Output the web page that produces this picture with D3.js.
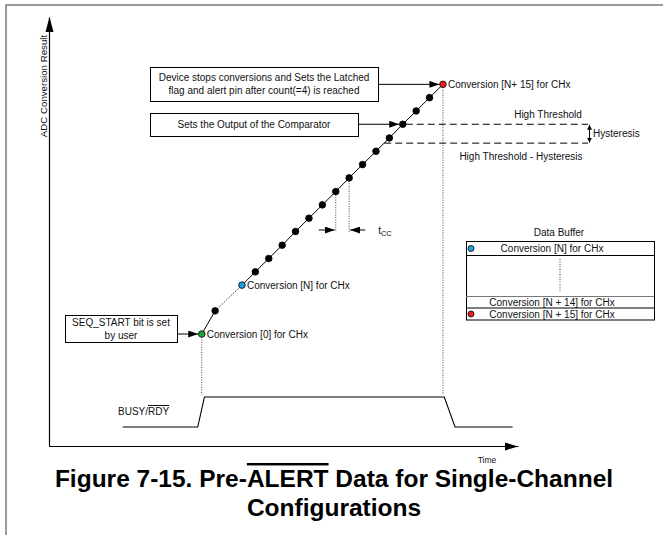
<!DOCTYPE html>
<html>
<head>
<meta charset="utf-8">
<script src="https://cdn.jsdelivr.net/npm/d3@7"></script>
<style>
  html, body { margin: 0; padding: 0; background: #fff; }
  svg text { font-family: "Liberation Sans", Arial, sans-serif; fill: #111; }
</style>
</head>
<body>
<div id="chart"></div>
<script>
'use strict';

// conversion time (in t_CC steps) and result (% of full scale)
var convTime = [0, 1, 3, 4, 5, 6, 7, 8, 9, 10, 11, 12, 13, 14, 15, 16, 17, 18];
var convCode = [26.1, 31.5, 37.5, 40.6, 43.7, 46.8, 50.0, 53.1, 56.2, 59.3, 62.5, 65.6, 68.7, 71.8, 75.0, 78.1, 81.2, 84.3];
var convFill = ['#1fa53b', '#000', '#1ba1e2', '#000', '#000', '#000', '#000', '#000', '#000',
                '#000', '#000', '#000', '#000', '#000', '#000', '#000', '#000', '#ed1c24'];
var convLabel = {0: 'Conversion [0] for CHx', 2: 'Conversion [N] for CHx', 17: 'Conversion [N+ 15] for CHx'};
var tccIndex = [9, 10];
var thresholdIndex = 14;

var highThreshold = 75.0;
var hysteresis = 4.4;

var busyTime = [-5.9, -0.3, 0.2, 18.1, 18.9, 23.2];
var busyLevel = [0, 0, 1, 1, 0, 0];

var bufferText = ['Conversion [N] for CHx', '', 'Conversion [N + 14] for CHx', 'Conversion [N + 15] for CHx'];
var bufferDot = ['#1ba1e2', null, null, '#ed1c24'];

var W = 663, H = 535;
var plot = {left: 49, right: 518, top: 17, bottom: 446};

var x = d3.scaleLinear().domain([-11.4, 23.6]).range([plot.left, plot.right]);
var y = d3.scaleLinear().domain([0, 100]).range([plot.bottom, plot.top]);
var yBusy = d3.scaleLinear().domain([0, 1]).range([427, 397]);

var svg = d3.select('#chart').append('svg')
	.attr('width', W)
	.attr('height', H);

var defs = svg.append('defs');
defs.append('marker')
	.attr('id', 'arrow')
	.attr('viewBox', '0 -3.5 10 7')
	.attr('refX', 10).attr('refY', 0)
	.attr('markerWidth', 10).attr('markerHeight', 7)
	.attr('markerUnits', 'userSpaceOnUse')
	.attr('orient', 'auto-start-reverse')
	.append('path').attr('d', 'M0,-3.5L10,0L0,3.5Z').attr('fill', '#000');
defs.append('marker')
	.attr('id', 'arrowSmall')
	.attr('viewBox', '0 -2.5 5 5')
	.attr('refX', 5).attr('refY', 0)
	.attr('markerWidth', 5).attr('markerHeight', 5)
	.attr('markerUnits', 'userSpaceOnUse')
	.attr('orient', 'auto-start-reverse')
	.append('path').attr('d', 'M0,-2.5L5,0L0,2.5Z').attr('fill', '#000');

// frame
svg.append('rect')
	.attr('x', 6).attr('y', 5)
	.attr('width', 680).attr('height', 600)
	.attr('fill', 'none')
	.attr('stroke', '#7a7a7a')
	.attr('stroke-width', 1.5);

// axes, no ticks
svg.append('g')
	.attr('transform', 'translate(' + plot.left + ',0)')
	.call(d3.axisLeft(y).tickValues([]).tickSizeOuter(0))
	.select('.domain').attr('stroke-width', 1.2);
svg.append('g')
	.attr('transform', 'translate(0,' + plot.bottom + ')')
	.call(d3.axisBottom(x).tickValues([]).tickSizeOuter(0))
	.select('.domain').attr('stroke-width', 1.2);

svg.append('path')
	.attr('d', 'M' + (plot.left - 3.5) + ',' + (plot.top + 15) + 'L' + (plot.left + 0.5) + ',' + plot.top +
		'L' + (plot.left + 4.5) + ',' + (plot.top + 15) + 'Z');
svg.append('path')
	.attr('d', 'M' + (plot.right - 13) + ',' + (plot.bottom - 3.5) + 'L' + plot.right + ',' + (plot.bottom + 0.5) +
		'L' + (plot.right - 13) + ',' + (plot.bottom + 4.5) + 'Z');

svg.append('text')
	.attr('transform', 'translate(47,86) rotate(-90)')
	.attr('text-anchor', 'middle')
	.style('font-size', '9.7px')
	.text('ADC Conversion Result');

svg.append('text')
	.attr('x', 487).attr('y', 463)
	.attr('text-anchor', 'middle')
	.style('font-size', '8.5px')
	.text('Time');

// conversion line
var pts = convTime.map(function(t, i){ return [x(t), y(convCode[i])]; });
var line = d3.line();

svg.append('path')
	.attr('d', line(pts.slice(0, 2)))
	.attr('fill', 'none').attr('stroke', '#000').attr('stroke-width', 1);
svg.append('path')
	.attr('d', line(pts.slice(1, 3)))
	.attr('fill', 'none').attr('stroke', '#000').attr('stroke-width', 1)
	.attr('stroke-dasharray', '1,1.5');
svg.append('path')
	.attr('d', line(pts.slice(2)))
	.attr('fill', 'none').attr('stroke', '#000').attr('stroke-width', 1);

// dotted guides
var last = pts.length - 1;
[0, last].forEach(function(i){
	svg.append('line')
		.attr('x1', pts[i][0]).attr('x2', pts[i][0])
		.attr('y1', pts[i][1] + 3).attr('y2', yBusy(1) - 2)
		.attr('stroke', '#444').attr('stroke-dasharray', '1,1.5');
});
tccIndex.forEach(function(i){
	svg.append('line')
		.attr('x1', pts[i][0]).attr('x2', pts[i][0])
		.attr('y1', pts[i][1] + 3).attr('y2', 232)
		.attr('stroke', '#444').attr('stroke-dasharray', '1,1.5');
});

// t_CC arrows
var tA = pts[tccIndex[0]][0], tB = pts[tccIndex[1]][0];
svg.append('line')
	.attr('x1', tA - 17).attr('x2', tA - 1).attr('y1', 230).attr('y2', 230)
	.attr('stroke', '#000').attr('marker-end', 'url(#arrow)');
svg.append('line')
	.attr('x1', tB + 16).attr('x2', tB + 1).attr('y1', 230).attr('y2', 230)
	.attr('stroke', '#000').attr('marker-end', 'url(#arrow)');
var tcc = svg.append('text')
	.attr('x', tB + 29).attr('y', 233.5)
	.style('font-size', '10px');
tcc.append('tspan').text('t');
tcc.append('tspan').attr('dy', 2.5).style('font-size', '7.5px').text('CC');

// thresholds
var yHigh = y(highThreshold), yLow = y(highThreshold - hysteresis);
var lowStart = x(d3.scaleLinear().domain([convCode[12], convCode[13]]).range([convTime[12], convTime[13]])(highThreshold - hysteresis));
svg.append('line')
	.attr('x1', pts[thresholdIndex][0] + 3).attr('x2', 588)
	.attr('y1', yHigh).attr('y2', yHigh)
	.attr('stroke', '#000').attr('stroke-dasharray', '7,4');
svg.append('line')
	.attr('x1', lowStart).attr('x2', 588)
	.attr('y1', yLow).attr('y2', yLow)
	.attr('stroke', '#000').attr('stroke-dasharray', '7,4');
svg.append('line')
	.attr('x1', 589.5).attr('x2', 589.5)
	.attr('y1', yHigh + 0.5).attr('y2', yLow - 0.5)
	.attr('stroke', '#000')
	.attr('marker-start', 'url(#arrowSmall)')
	.attr('marker-end', 'url(#arrowSmall)');
svg.append('text').attr('x', 548).attr('y', yHigh - 6).attr('text-anchor', 'middle')
	.style('font-size', '10px').text('High Threshold');
svg.append('text').attr('x', 593).attr('y', (yHigh + yLow) / 2 + 3.5)
	.style('font-size', '10px').text('Hysteresis');
svg.append('text').attr('x', 521).attr('y', yLow + 16.5).attr('text-anchor', 'middle')
	.style('font-size', '10px').text('High Threshold - Hysteresis');

// dots
svg.selectAll('circle.conv')
	.data(pts)
	.enter().append('circle')
	.attr('class', 'conv')
	.attr('cx', function(d){ return d[0]; })
	.attr('cy', function(d){ return d[1]; })
	.attr('r', 3.3)
	.attr('fill', function(d, i){ return convFill[i]; })
	.attr('stroke', '#000')
	.attr('stroke-width', 0.8);

Object.keys(convLabel).forEach(function(k){
	var p = pts[+k];
	svg.append('text')
		.attr('x', p[0] + 5).attr('y', p[1] + 3.5)
		.style('font-size', '10px')
		.text(convLabel[k]);
});

// annotation boxes
function box(bx, by, bw, bh, lines, target){
	svg.append('rect')
		.attr('x', bx + 0.5).attr('y', by + 0.5)
		.attr('width', bw).attr('height', bh)
		.attr('fill', '#fff').attr('stroke', '#000');
	var t = svg.append('text')
		.attr('text-anchor', 'middle')
		.style('font-size', '10px');
	var lh = 13;
	var y0 = by + bh / 2 + 3.5 - (lines.length - 1) * lh / 2;
	lines.forEach(function(s, i){
		t.append('tspan').attr('x', bx + bw / 2).attr('y', y0 + i * lh).text(s);
	});
	svg.append('line')
		.attr('x1', bx + bw + 0.5).attr('x2', target[0] - 3.5)
		.attr('y1', target[1]).attr('y2', target[1])
		.attr('stroke', '#000').attr('marker-end', 'url(#arrow)');
}
box(150, 67, 228, 34, ['Device stops conversions and Sets the Latched', 'flag and alert pin after count(=4) is reached'], pts[last]);
box(150, 113, 208, 23, ['Sets the Output of the Comparator'], pts[thresholdIndex]);
box(65, 315, 112, 27, ['SEQ_START bit is set', 'by user'], pts[0]);

// BUSY/RDY
svg.append('path')
	.attr('d', d3.line()(busyTime.map(function(t, i){ return [x(t), yBusy(busyLevel[i])]; })))
	.attr('fill', 'none').attr('stroke', '#000').attr('stroke-width', 1.1);
var busy = svg.append('text')
	.attr('x', 118).attr('y', 415)
	.style('font-size', '10px');
busy.append('tspan').text('BUSY/');
busy.append('tspan').style('text-decoration', 'overline').text('RDY');

// data buffer
var rowY = [241, 255, 296, 307.5, 319.5];
var tbl = {left: 466, right: 654};
svg.append('text').attr('x', 559).attr('y', 236).attr('text-anchor', 'middle')
	.style('font-size', '10px').text('Data Buffer');
svg.append('rect')
	.attr('x', tbl.left + 0.5).attr('y', rowY[0] + 0.5)
	.attr('width', tbl.right - tbl.left).attr('height', rowY[4] - rowY[0])
	.attr('fill', 'none').attr('stroke', '#000');
rowY.slice(1, 4).forEach(function(ry, i){
	svg.append('line')
		.attr('x1', tbl.left).attr('x2', tbl.right)
		.attr('y1', ry + 0.5).attr('y2', ry + 0.5)
		.attr('stroke', i === 1 ? '#777' : '#000');
});
bufferText.forEach(function(s, i){
	var cy = (rowY[i] + rowY[i + 1]) / 2;
	if (s) {
		svg.append('text').attr('x', 552).attr('y', cy + 4).attr('text-anchor', 'middle')
			.style('font-size', '10px').text(s);
	}
	if (bufferDot[i]) {
		svg.append('circle').attr('cx', 471).attr('cy', cy + 0.5).attr('r', 3)
			.attr('fill', bufferDot[i]).attr('stroke', '#000').attr('stroke-width', 0.8);
	}
});
svg.append('line')
	.attr('x1', 560).attr('x2', 560)
	.attr('y1', rowY[1] + 4).attr('y2', rowY[2] - 4)
	.attr('stroke', '#444').attr('stroke-dasharray', '1,1.5');

// caption
var cap = svg.append('text')
	.attr('text-anchor', 'middle')
	.style('font-size', '24.5px')
	.style('font-weight', 'bold')
	.style('fill', '#000');
var l1 = cap.append('tspan').attr('x', 334).attr('y', 487);
l1.append('tspan').text('Figure 7-15. Pre-');
l1.append('tspan').style('text-decoration', 'overline').text('ALERT');
l1.append('tspan').text(' Data for Single-Channel');
cap.append('tspan').attr('x', 334).attr('y', 516).text('Configurations');
</script>
</body>
</html>
